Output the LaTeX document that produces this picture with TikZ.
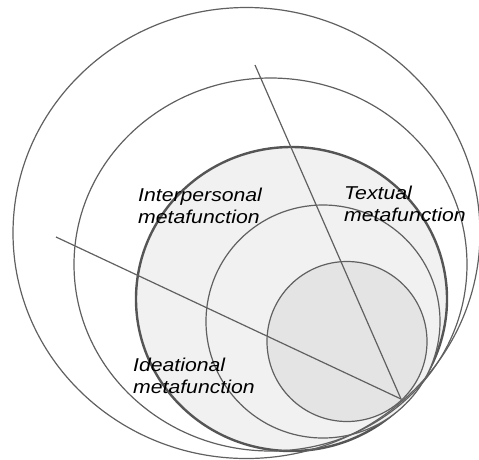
\documentclass[tikz,border=0pt]{standalone}
\usepackage{fontspec}
\newfontfamily\labfont[FakeStretch=1.14]{Liberation Sans}
\definecolor{ringgray}{HTML}{606060}
\definecolor{boldgray}{HTML}{555555}
\definecolor{lightfill}{HTML}{F1F1F1}
\definecolor{darkfill}{HTML}{E4E4E4}
\begin{document}
\begin{tikzpicture}[x=1pt,y=-1pt,
  ring/.style={draw=ringgray, line width=1.2pt},
  boldring/.style={draw=boldgray, line width=2.4pt},
  spoke/.style={draw=ringgray, line width=1.2pt},
  lab/.style={font=\labfont\itshape\fontsize{18.6}{22}\selectfont, text=black, inner sep=0pt, align=left, anchor=base west}]
\useasboundingbox (0,0) rectangle (479,459);
% filled inner rings
\filldraw[boldring, fill=lightfill] (291.5,299) ellipse [x radius=155.5pt, y radius=152pt];
\filldraw[ring, fill=lightfill] (323,321.5) ellipse [x radius=117pt, y radius=116.5pt];
\filldraw[ring, fill=darkfill] (347,341.5) circle [radius=80pt];
% outer rings
\draw[ring] (246.5,233) ellipse [x radius=233.5pt, y radius=225.5pt];
\draw[ring] (270.5,264.5) ellipse [x radius=196.5pt, y radius=186.5pt];
% spokes
\coordinate (P) at (401,399);
\coordinate (A) at (255,65);
\coordinate (B) at (56,237);
\draw[spoke] (A) -- (P);
\draw[spoke] (B) -- (P);
% labels (anchor at the baseline of the last line)
\node[lab] (inter) at (138,223) {Interpersonal\\metafunction};
\node[lab] (text) at (344,221.5) {Textual\\metafunction};
\node[lab] (idea) at (133,393) {Ideational\\metafunction};
\end{tikzpicture}
\end{document}
